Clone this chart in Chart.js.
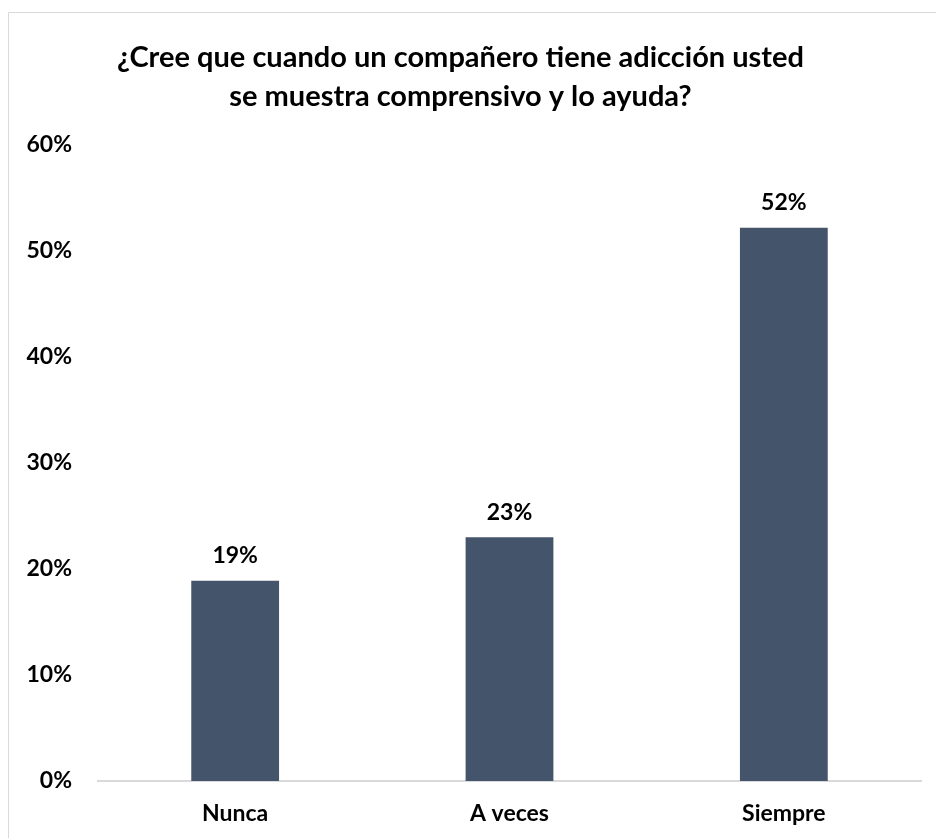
<!DOCTYPE html>
<html>
<head>
<meta charset="utf-8">
<script src="https://cdn.jsdelivr.net/npm/chart.js@4.4.1/dist/chart.umd.min.js"></script>
<style>
  html, body { margin: 0; padding: 0; background: #fff; }
  #wrap { position: relative; width: 936px; height: 838px; }
</style>
</head>
<body>
<div id="wrap"><canvas id="chart1"></canvas></div>
<script>
const categories = ['Nunca', 'A veces', 'Siempre'];
const values = [0.189, 0.230, 0.522];
const valueLabels = ['19%', '23%', '52%'];
const titleLines = ['¿Cree que cuando un compañero tiene adicción usted', 'se muestra comprensivo y lo ayuda?'];

const FONT = 'Lato, "Liberation Sans", sans-serif';

// etiquetas encima de cada barra
const barLabels = {
    id: 'barLabels',
    afterDatasetsDraw(chart) {
        const c = chart.ctx;
        const meta = chart.getDatasetMeta(0);
        c.save();
        c.font = 'bold 23px ' + FONT;
        c.fillStyle = '#000';
        c.textAlign = 'center';
        c.textBaseline = 'middle';
        meta.data.forEach((bar, i) => {
            c.fillText(valueLabels[i], bar.x, bar.y - 25);
        });
        c.restore();
    }
};

// borde gris del área del gráfico
const frame = {
    id: 'frame',
    beforeDraw(chart) {
        const c = chart.ctx;
        c.save();
        c.strokeStyle = '#d9d9d9';
        c.lineWidth = 1;
        c.beginPath();
        c.moveTo(8.5, 838);
        c.lineTo(8.5, 12.5);
        c.lineTo(936, 12.5);
        c.stroke();
        c.restore();
    }
};

const ctx = document.getElementById('chart1');

const data = {
    labels: categories,
    datasets: [
        {
            data: values,
            backgroundColor: '#44546a',
            borderWidth: 0,
            categoryPercentage: 1,
            barPercentage: 0.32
        }
    ]
};

const config = {
    type: 'bar',
    data: data,
    options: {
        responsive: true,
        maintainAspectRatio: false,
        animation: false,
        layout: {
            padding: { left: 0, right: 15, top: 0, bottom: 0 }
        },
        plugins: {
            legend: { display: false },
            tooltip: { enabled: false },
            title: {
                display: true,
                text: titleLines,
                color: '#000',
                font: { family: FONT, size: 29, weight: 'bold', lineHeight: 1.345 },
                padding: { top: 38, bottom: 29 }
            }
        },
        scales: {
            x: {
                afterFit(scale) { scale.height = 57; },
                grid: { display: false, drawTicks: false },
                border: { display: true, color: '#d9d9d9', width: 2 },
                ticks: {
                    color: '#000',
                    padding: 19,
                    font: { family: FONT, size: 23, weight: 'bold' }
                }
            },
            y: {
                min: 0,
                max: 0.6,
                afterFit(scale) { scale.width = 98; },
                grid: { display: false, drawTicks: false },
                border: { display: false },
                ticks: {
                    stepSize: 0.1,
                    color: '#000',
                    padding: 26,
                    font: { family: FONT, size: 23, weight: 'bold' },
                    callback: v => Math.round(v * 100) + '%'
                }
            }
        }
    },
    plugins: [frame, barLabels]
};

const barChart = new Chart(ctx, config);
</script>
</body>
</html>
